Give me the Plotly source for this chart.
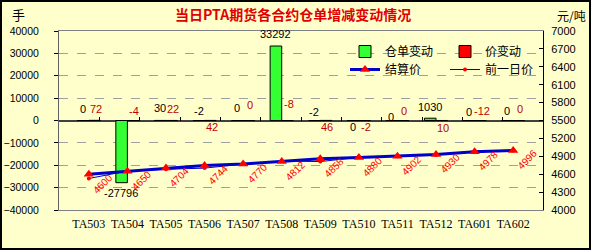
import plotly.graph_objects as go

# ---- data ----
categories = ["TA503", "TA504", "TA505", "TA506", "TA507", "TA508",
              "TA509", "TA510", "TA511", "TA512", "TA601", "TA602"]
warrant_change = [0, -27796, 30, -2, 0, 33292, -2, 0, 0, 1030, 0, 0]
price_change = [72, -4, 22, 42, 0, -8, 46, -2, 0, 10, -12, 0]
settle_price = [4600, 4650, 4704, 4744, 4770, 4812, 4858, 4880, 4902, 4930, 4978, 4996]
prev_price = [s - d for s, d in zip(settle_price, price_change)]

# label vertical offsets (style only, px)
wr_label_dy = [12, -10, 12, 10, 13, 12, 9, -6, 4, 11, 9, 10]
pc_label_dy = [12, 10, 12, -6, 16, 17, -6, -6, 10, -7, 10, 12]

W, H = 591, 250
ML, MR, MT, MB = 59, 48, 31, 40
PW, PH = W - ML - MR, H - MT - MB


def px(x):
    return (x - ML) / PW


def py(y):
    return 1 + (MT - y) / PH


BG = "#FFFFCC"
fig = go.Figure()

fig.add_bar(x=categories, y=warrant_change, name="仓单变动", yaxis="y",
            marker=dict(color="#33FF33", line=dict(color="black", width=1)),
            legend="legend")
fig.add_bar(x=categories, y=price_change, name="价变动", yaxis="y",
            marker=dict(color="#FF0000", line=dict(color="black", width=1)),
            legend="legend")
fig.add_scatter(x=categories, y=prev_price, name="前一日价", yaxis="y2",
                mode="lines+markers", line=dict(color="#0000CC", width=1),
                marker=dict(symbol="circle", color="#FF0000", size=4),
                legend="legend2")
fig.add_scatter(x=categories, y=settle_price, name="结算价", yaxis="y2",
                mode="lines+markers", line=dict(color="#0000CC", width=3),
                marker=dict(symbol="triangle-up", color="#FF0000", size=9),
                legend="legend2")
# helper trace for category boundary ticks on the zero line
fig.add_scatter(x=[0], y=[0], xaxis="x2", yaxis="y", mode="none",
                showlegend=False, hoverinfo="skip")

ann = []
for i, c in enumerate(categories):
    ann.append(dict(x=c, y=warrant_change[i], xref="x", yref="y",
                    text=str(warrant_change[i]), showarrow=False,
                    xshift=-6, yshift=wr_label_dy[i],
                    font=dict(family="Liberation Sans, Arial", size=11, color="black")))
    ann.append(dict(x=c, y=0, xref="x", yref="y",
                    text=str(price_change[i]), showarrow=False,
                    xshift=7, yshift=pc_label_dy[i],
                    font=dict(family="Liberation Sans, Arial", size=11, color="#C00000")))
    ann.append(dict(x=c, y=settle_price[i], xref="x", yref="y2",
                    text=str(settle_price[i]), showarrow=False, textangle=-45,
                    xshift=14, yshift=-9,
                    font=dict(family="Liberation Sans, Arial", size=10, color="#FF0000")))

ann.append(dict(x=px(18), y=py(14), xref="paper", yref="paper", text="手",
                xanchor="center", yanchor="middle",
                showarrow=False, font=dict(family="Noto Sans CJK SC", size=13, color="black")))
ann.append(dict(x=px(571), y=py(15), xref="paper", yref="paper", text="元/吨",
                xanchor="center", yanchor="middle",
                showarrow=False, font=dict(family="Noto Sans CJK SC", size=12, color="black")))
ann.append(dict(x=px(293), y=py(14), xref="paper", yref="paper",
                text="<b>当日PTA期货各合约仓单增减变动情况</b>",
                xanchor="center", yanchor="middle",
                showarrow=False, font=dict(family="Noto Sans CJK SC", size=14, color="#E00000")))

n = len(categories)
fig.update_layout(
    width=W, height=H,
    margin=dict(l=ML, r=MR, t=MT, b=MB, autoexpand=False),
    paper_bgcolor=BG, plot_bgcolor=BG,
    barmode="group", bargap=0.4, bargroupgap=0,
    annotations=ann,
    xaxis=dict(type="category", showline=True, linecolor="#808080", mirror=True,
               ticks="", showgrid=False, automargin=False,
               tickfont=dict(family="Liberation Serif", size=12, color="black"),
               ticklabelstandoff=3),
    xaxis2=dict(overlaying="x", anchor="free", position=0.5, side="bottom",
                range=[-0.5, n - 0.5], tickvals=[i + 0.5 for i in range(n - 1)],
                ticks="inside", ticklen=4, tickcolor="black", showticklabels=False,
                showgrid=False, showline=False, zeroline=False, automargin=False),
    yaxis=dict(range=[-40000, 40000], tick0=0, dtick=10000, tickformat="d",
               ticks="outside", ticklen=4, automargin=False,
               tickcolor="black", showline=True, linecolor="#606060",
               showgrid=True, gridcolor="#A0A0A0", griddash="dash", gridwidth=1,
               zeroline=True, zerolinecolor="#404040", zerolinewidth=1.5,
               tickfont=dict(family="Liberation Sans, Arial", size=10.5, color="black"),
               ticklabelstandoff=13),
    yaxis2=dict(range=[4000, 7000], tick0=4000, dtick=300, tickformat="d",
                overlaying="y", side="right", automargin=False,
                ticks="inside", ticklen=4, tickcolor="black", showline=True,
                linecolor="black", showgrid=False, zeroline=False,
                tickfont=dict(family="Liberation Sans, Arial", size=11, color="black"),
                ticklabelstandoff=5),
    legend=dict(orientation="h", x=px(345), y=py(37), xanchor="left", yanchor="top",
                bgcolor="rgba(0,0,0,0)", entrywidth=55, entrywidthmode="pixels",
                font=dict(family="Noto Sans CJK SC", size=12, color="black"),
                itemwidth=30, tracegroupgap=0),
    legend2=dict(orientation="h", x=px(345), y=py(55), xanchor="left", yanchor="top",
                 bgcolor="rgba(0,0,0,0)", entrywidth=55, entrywidthmode="pixels",
                 traceorder="reversed",
                 font=dict(family="Noto Sans CJK SC", size=12, color="black"),
                 itemwidth=30),
    shapes=[dict(type="rect", xref="paper", yref="paper",
                 x0=px(1), x1=px(W - 1), y0=py(H - 1), y1=py(1),
                 line=dict(color="black", width=2), layer="below")],
    showlegend=True,
)

fig.write_html("out.html")
